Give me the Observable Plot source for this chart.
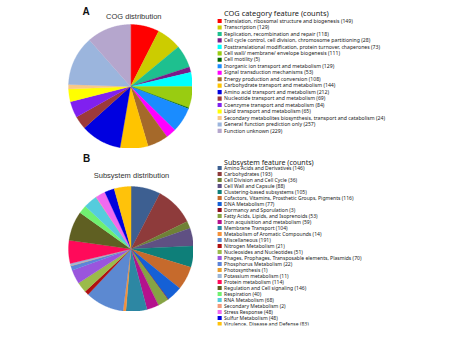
<!DOCTYPE html>
<html>
<head>
<meta charset="utf-8">
<script src="https://cdn.jsdelivr.net/npm/d3@7"></script>
<script src="https://cdn.jsdelivr.net/npm/@observablehq/plot@0.6"></script>
<style>
  body { margin: 0; background: #fff; }
  #chart { position: relative; width: 471px; height: 340px; overflow: hidden;
           font-family: "Liberation Sans", Arial, Helvetica, sans-serif; color: #222; }
  #chart > * { position: absolute; }
  .panel { font-weight: bold; font-size: 10px; line-height: 10px; color: #111; }
  .ptitle { font-size: 7.5px; line-height: 7.5px; color: #333; white-space: nowrap; transform: translateX(-50%); }
  .legend { transform-origin: 0 0; }
</style>
</head>
<body>
<div id="chart"></div>
<script>
// COG functional categories
const cogCategories = [
  "Translation, ribosomal structure and biogenesis",
  "Transcription",
  "Replication, recombination and repair",
  "Cell cycle control, cell division, chromosome partitioning",
  "Posttranslational modification, protein turnover, chaperones",
  "Cell wall/ membrane/ envelope biogenesis",
  "Cell motility",
  "Inorganic ion transport and metabolism",
  "Signal transduction mechanisms",
  "Energy production and conversion",
  "Carbohydrate transport and metabolism",
  "Amino acid transport and metabolism",
  "Nucleotide transport and metabolism",
  "Coenzyme transport and metabolism",
  "Lipid transport and metabolism",
  "Secondary metabolites biosynthesis, transport and catabolism",
  "General function prediction only",
  "Function unknown"
];
const cogCounts = [149, 129, 118, 28, 73, 111, 5, 129, 53, 108, 144, 212, 69, 84, 65, 24, 257, 229];
const cogColors = [
  "#ff0000", "#cccc00", "#1ec08f", "#7a1a8a", "#00ffff", "#99cc11", "#006600", "#1a8cff", "#ff00ff",
  "#a5692a", "#ffc400", "#0000e0", "#9c3a3a", "#8020f0", "#ffff00", "#f8c888", "#9bb5dd", "#b5a6cd"
];

// SEED subsystem categories
const subCategories = [
  "Amino Acids and Derivatives",
  "Carbohydrates",
  "Cell Division and Cell Cycle",
  "Cell Wall and Capsule",
  "Clustering-based subsystems",
  "Cofactors, Vitamins, Prosthetic Groups, Pigments",
  "DNA Metabolism",
  "Dormancy and Sporulation",
  "Fatty Acids, Lipids, and Isoprenoids",
  "Iron acquisition and metabolism",
  "Membrane Transport",
  "Metabolism of Aromatic Compounds",
  "Miscellaneous",
  "Nitrogen Metabolism",
  "Nucleosides and Nucleotides",
  "Phages, Prophages, Transposable elements, Plasmids",
  "Phosphorus Metabolism",
  "Photosynthesis",
  "Potassium metabolism",
  "Protein metabolism",
  "Regulation and Cell signaling",
  "Respiration",
  "RNA Metabolism",
  "Secondary Metabolism",
  "Stress Response",
  "Sulfur Metabolism",
  "Virulence, Disease and Defense"
];
const subCounts = [146, 193, 36, 88, 105, 116, 77, 3, 53, 59, 104, 14, 191, 21, 51, 70, 22, 1, 11, 114, 146, 40, 68, 2, 48, 48, 83];
const subColors = [
  "#3d5f91", "#8e3b3b", "#6f8136", "#5f5083", "#0e7f79", "#c66a2c", "#1560d6", "#8e0c1c", "#86a344",
  "#b4118d", "#2d87a3", "#f5913a", "#5c89d1", "#b01010", "#9bbb4a", "#9a55dd", "#5c84d9", "#eaa030",
  "#9db6d6", "#ff0a5a", "#5f5f22", "#70f070", "#55ccdd", "#f39a7b", "#f06af0", "#0000dd", "#ffc20a"
];

// Pie: each slice is a closed polygon (centre + arc) in unit coordinates, clockwise from 12 o'clock
function pie(names, counts, colors, size) {
  const arcs = d3.pie().sort(null)(counts);
  const pts = [];
  arcs.forEach((a, i) => {
    const name = names[i];
    pts.push({name, x: 0, y: 0});
    const n = Math.max(2, Math.ceil((a.endAngle - a.startAngle) / (Math.PI / 360)));
    for (let k = 0; k <= n; k++) {
      const t = a.startAngle + (a.endAngle - a.startAngle) * k / n;
      pts.push({name, x: Math.sin(t), y: Math.cos(t)});
    }
  });
  return Plot.plot({
    width: size, height: size, margin: 0,
    x: {domain: [-1, 1], axis: null},
    y: {domain: [-1, 1], axis: null},
    color: {domain: names, range: colors},
    marks: [
      Plot.line(pts, {x: "x", y: "y", z: "name", fill: "name", stroke: "name", strokeWidth: 0.3, curve: "linear-closed"})
    ]
  });
}

// Legend: square swatch + "name (count)" per row, with a heading.
// Drawn at 2x and scaled down so the small type is not clamped by the browser's minimum font size.
function legend(title, names, counts, colors, o) {
  const k = 2;
  const rows = names.map((name, i) => ({name, label: `${name} (${counts[i]})`}));
  const svg = Plot.plot({
    width: o.width * k, height: o.height * k, margin: 0,
    x: {axis: null},
    y: {type: "point", domain: names, range: [o.first * k, o.last * k], padding: 0, axis: null},
    color: {domain: names, range: colors},
    marks: [
      Plot.text([title], {text: d => d, frameAnchor: "top-left", textAnchor: "start", dx: 8.5 * k, dy: o.titleY * k,
                          fontSize: o.titleSize * k, fill: "#222"}),
      Plot.dot(rows, {y: "name", fill: "name", symbol: "square", r: 2.5 * k, frameAnchor: "left", dx: 3.7 * k}),
      Plot.text(rows, {y: "name", text: "label", frameAnchor: "left", textAnchor: "start", dx: 8.5 * k,
                       fontSize: o.itemSize * k, fill: "#222"})
    ]
  });
  svg.classList.add("legend");
  svg.style.transform = `scale(${1 / k})`;
  return svg;
}

const chart = document.getElementById("chart");
function place(el, left, top) { el.style.left = left + "px"; el.style.top = top + "px"; chart.appendChild(el); return el; }
function label(cls, text, left, top) { const d = document.createElement("div"); d.className = cls; d.textContent = text; return place(d, left, top); }

label("panel", "A", 82.5, 6.5);
label("ptitle", "COG distribution", 133.8, 13);
place(pie(cogCategories, cogCounts, cogColors, 124), 68, 24);

label("panel", "B", 83, 153.5);
label("ptitle", "Subsystem distribution", 131.5, 172);
place(pie(subCategories, subCounts, subColors, 125), 68, 186);

place(legend("COG category feature (counts)", cogCategories, cogCounts, cogColors,
  {width: 255, height: 152, first: 20, last: 144, titleY: 11.5, titleSize: 8, itemSize: 5.6}), 216, 0);
place(legend("Subsystem feature (counts)", subCategories, subCounts, subColors,
  {width: 255, height: 188, first: 16.7, last: 186, titleY: 8.5, titleSize: 7.6, itemSize: 5.5}), 216, 152);
</script>
</body>
</html>
